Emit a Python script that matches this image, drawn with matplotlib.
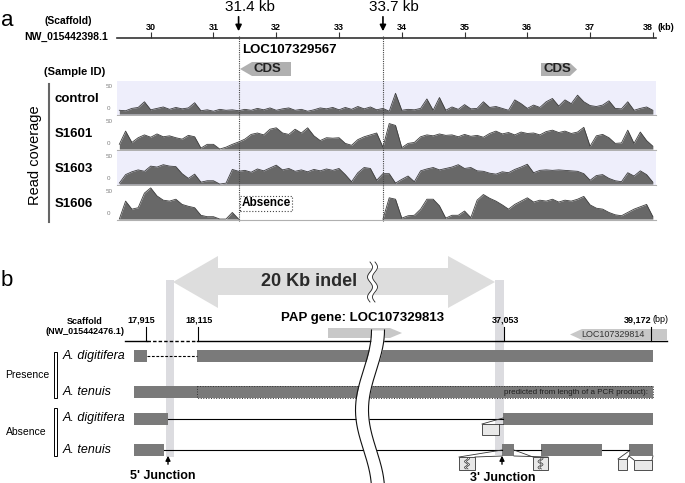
import numpy as np
import matplotlib.pyplot as plt
from matplotlib.patches import Polygon, Rectangle
from matplotlib.transforms import blended_transform_factory

plt.rcParams['font.family'] = ['Liberation Sans', 'DejaVu Sans']

# ---------------- panel a data ----------------
kb_ticks = [30, 31, 32, 33, 34, 35, 36, 37, 38]
breakpoints = [31.4, 33.7]
breakpoint_labels = ['31.4 kb', '33.7 kb']
samples = ['control', 'S1601', 'S1603', 'S1606']
bin_start = 29.5  # kb, read coverage every 0.1 kb
bin_step = 0.1

cov_control = [8, 7, 12, 14, 26, 9, 12, 15, 10, 14,
               11, 13, 24, 7, 9, 6, 10, 8, 9, 7,
               10, 8, 12, 9, 13, 8, 11, 13, 8, 10,
               6, 9, 13, 11, 14, 9, 14, 10, 16, 11,
               15, 9, 12, 6, 44, 8, 10, 9, 12, 32,
               8, 35, 8, 15, 10, 20, 11, 12, 26, 14,
               16, 12, 8, 30, 22, 12, 19, 14, 26, 33,
               17, 30, 22, 40, 26, 18, 16, 19, 28, 12,
               11, 26, 8, 12, 15, 8]
cov_s1601 = [10, 38, 14, 24, 30, 25, 32, 26, 28, 24,
             21, 29, 26, 2, 10, 10, 0, 4, 10, 15,
             21, 31, 34, 30, 42, 45, 34, 31, 42, 34,
             45, 28, 18, 24, 23, 24, 12, 8, 20, 26,
             30, 34, 4, 54, 50, 3, 12, 14, 26, 30,
             28, 32, 29, 30, 26, 31, 27, 29, 25, 33,
             38, 32, 35, 30, 36, 33, 34, 30, 37, 40,
             35, 38, 33, 36, 46, 6, 28, 31, 24, 12,
             13, 40, 12, 36, 18, 6]
cov_s1603 = [2, 20, 26, 30, 27, 38, 36, 41, 38, 37,
             22, 12, 21, 4, 7, 7, 0, 2, 31, 27,
             29, 25, 32, 28, 34, 40, 30, 33, 27, 30,
             26, 31, 28, 32, 29, 33, 20, 5, 24, 35,
             33, 8, 22, 22, 2, 10, 17, 5, 28, 32,
             35, 30, 33, 36, 41, 33, 35, 28, 27, 23,
             21, 26, 24, 31, 36, 42, 24, 29, 30, 29,
             30, 29, 28, 27, 22, 8, 18, 20, 12, 7,
             5, 24, 17, 28, 20, 4]
cov_s1606 = [0, 38, 21, 24, 55, 66, 49, 40, 38, 42,
             31, 27, 24, 8, 5, 5, 0, 0, 14, 0,
             0, 0, 0, 0, 0, 0, 0, 0, 0, 0,
             0, 0, 0, 0, 0, 0, 0, 0, 0, 0,
             0, 0, 0, 45, 42, 2, 7, 8, 21, 42,
             42, 28, 2, 8, 8, 17, 3, 40, 52, 44,
             38, 30, 21, 31, 38, 45, 36, 40, 38, 42,
             36, 40, 38, 42, 48, 30, 23, 21, 14, 9,
             7, 14, 21, 26, 31, 5]
coverage = [cov_control, cov_s1601, cov_s1603, cov_s1606]

# ---------------- panel b data ----------------
scaffold_ticks = ['17,915', '18,115', '37,053', '39,172']
group_names = ['Presence', 'Absence']
row_species = ['A. digitifera', 'A. tenuis', 'A. digitifera', 'A. tenuis']
# blocks along the schematic scaffold (drawing units)
row_blocks = [[(134, 147), (197, 653)],
              [(134, 653)],
              [(134, 168), (503, 653)],
              [(134, 164), (502, 514), (541, 602), (629, 653)]]
row_links = ['dashed', None, 'solid', 'solid']
junction_labels = ["5' Junction", "3' Junction"]

W, H = 685, 483


def px_rect(x0, y0, x1, y1):
    return [x0 / W, 1 - y1 / H, (x1 - x0) / W, (y1 - y0) / H]


fig = plt.figure(figsize=(W / 100, H / 100), dpi=100)
kb_lim = (29.463, 38.05)

# coverage tracks
track_px = [(81, 115), (116, 150), (151, 185), (186, 220)]
track_bg = ['#eeeefb', 'white', '#eeeefb', 'white']
x_bins = bin_start + bin_step * np.arange(len(cov_control))
for vals, (y0, y1), bg in zip(coverage, track_px, track_bg):
    t = fig.add_axes(px_rect(117, y0, 656, y1))
    t.set_xlim(*kb_lim)
    t.set_ylim(-2, 70)
    t.set_facecolor(bg)
    t.fill_between(x_bins, 0, vals, color='#686868', lw=0)
    v = np.array(vals, dtype=float)
    flat = (v == 0) & (np.r_[0, v[:-1]] == 0) & (np.r_[v[1:], 0] == 0)
    v[flat] = np.nan
    t.plot(x_bins, v, color='#3c3c3c', lw=0.6)
    for s in ['top', 'left', 'right']:
        t.spines[s].set_visible(False)
    t.spines['bottom'].set_color('#b0b0b0')
    t.set_xticks([])
    t.set_yticks([])
    t.text(-0.008, 0.85, '50', transform=t.transAxes, ha='right', va='center',
           fontsize=4.5, color='#808080')
    t.text(-0.012, 0.18, '0', transform=t.transAxes, ha='right', va='center',
           fontsize=4.5, color='#808080')

# kb ruler
ax_r = fig.add_axes(px_rect(117, 18, 656, 38))
ax_r.set_xlim(*kb_lim)
ax_r.set_ylim(0, 1)
ax_r.patch.set_alpha(0)
for s in ['top', 'left', 'right']:
    ax_r.spines[s].set_visible(False)
ax_r.spines['bottom'].set_color('#333333')
ax_r.spines['bottom'].set_linewidth(1.2)
ax_r.set_yticks([])
ax_r.set_xticks(kb_ticks)
ax_r.tick_params(axis='x', direction='in', length=4, width=0.8, colors='#333333',
                 labelbottom=False)
for k in kb_ticks:
    ax_r.text(k - (0.08 if k == kb_ticks[-1] else 0), 0.5, str(k), ha='center',
              va='center', fontsize=6.5, weight='bold')
ax_r.text(38.07, 0.5, '(kb)', ha='left', va='center', fontsize=6.5, weight='bold')

# overlay in pixel units
ax = fig.add_axes([0, 0, 1, 1], zorder=10)
ax.set_xlim(0, W)
ax.set_ylim(H, 0)
ax.axis('off')
kb_px = blended_transform_factory(ax_r.transData, ax.transData)

ax.text(1, 21, 'a', fontsize=16, va='center', ha='left')
ax.text(68, 21, '(Scaffold)', fontsize=7.5, weight='bold', ha='center', va='center')
ax.text(108, 37, 'NW_015442398.1', fontsize=7.5, weight='bold', ha='right', va='center')
ax.text(75, 72, '(Sample ID)', fontsize=8, weight='bold', ha='center', va='center')

for bp, lab in zip(breakpoints, breakpoint_labels):
    ax.annotate('', xy=(bp, 34), xytext=(bp, 14), xycoords=kb_px, textcoords=kb_px,
                arrowprops=dict(arrowstyle='-|>', color='k', lw=1.2, mutation_scale=9))
    ax.text(bp + 0.18, 7, lab, transform=kb_px, ha='center', va='center', fontsize=11)
    ax.plot([bp, bp], [36, 221], transform=kb_px, color='#444444', lw=0.8,
            ls=(0, (1, 1)))

ax.text(31.46, 50, 'LOC107329567', transform=kb_px, fontsize=9.5, weight='bold',
        ha='left', va='center')
ax.add_patch(Polygon([(240, 69), (252, 62), (291, 62), (291, 76), (252, 76)],
                     fc='#b0b0b0', ec='none'))
ax.text(267, 69, 'CDS', fontsize=9.5, weight='bold', ha='center', va='center', color='#222222')
ax.add_patch(Polygon([(541, 63), (570, 63), (577, 69.5), (570, 76), (541, 76)],
                     fc='#b0b0b0', ec='none'))
ax.text(557, 69.5, 'CDS', fontsize=9.5, weight='bold', ha='center', va='center', color='#222222')

for name, (y0, y1) in zip(samples, track_px):
    ax.text(55, (y0 + y1) / 2 + 1, name, fontsize=9.5, weight='bold', ha='left', va='center')
ax.text(35, 155, 'Read coverage', rotation=90, fontsize=10.5, ha='center', va='center')
ax.plot([49, 49], [84, 222], color='#666666', lw=1.5)
ax.text(266, 203.5, 'Absence', fontsize=8.5, weight='bold', ha='center', va='center',
        bbox=dict(boxstyle='square,pad=0.15', fc='white', ec='#444444', ls=':', lw=0.8))

# ---------------- panel b ----------------
ax.text(1, 281, 'b', fontsize=16, va='center', ha='left')
ax.add_patch(Polygon([(173, 282), (218, 256), (218, 268), (448, 268), (448, 256),
                      (495, 282), (448, 308), (448, 295), (218, 295), (218, 308)],
                     fc='#dddddd', ec='none', zorder=1))
ax.add_patch(Rectangle((166, 280), 8, 177, fc='#dcdce0', ec='none', zorder=1))
ax.add_patch(Rectangle((495, 280), 9, 175, fc='#dcdce0', ec='none', zorder=1))
ax.text(309, 282, '20 Kb indel', fontsize=13, weight='bold', ha='center', va='center',
        color='#2a2a2a', zorder=2)

# small break mark inside the arrow
ys = np.linspace(262, 302, 60)
cs = 372.5 + 2.5 * np.sin(2 * np.pi * (ys - 262) / 20)
ax.fill_betweenx(ys, cs - 2.5, cs + 2.5, color='white', zorder=3, lw=0)
ax.plot(cs - 2.5, ys, color='#222222', lw=0.6, zorder=3)
ax.plot(cs + 2.5, ys, color='#222222', lw=0.6, zorder=3)

# scaffold line
ax.text(85, 322, 'Scaffold', fontsize=6.5, weight='bold', ha='center', va='center')
ax.text(125, 332, '(NW_015442476.1)', fontsize=6.5, weight='bold', ha='right', va='center')
ax.plot([125, 147], [341, 341], color='k', lw=1, zorder=4)
ax.plot([147, 197], [341, 341], color='k', lw=1, ls=(0, (2.5, 1.5)), zorder=4)
ax.plot([197, 667], [341, 341], color='k', lw=1, zorder=4)
tick_x = [146, 198, 504, 651]
label_x = [141, 199, 506, 651]
for tx, lx, lab in zip(tick_x, label_x, scaffold_ticks):
    ax.plot([tx, tx], [327, 341], color='k', lw=0.8, zorder=4)
    ha = 'right' if lab == scaffold_ticks[-1] else 'center'
    ax.text(lx, 320, lab, fontsize=6.5, weight='bold', ha=ha, va='center')
ax.text(653, 320, '(bp)', fontsize=6.5, ha='left', va='center')

ax.add_patch(Polygon([(570, 334.5), (582, 329), (667, 329), (667, 340), (582, 340)],
                     fc='#c8c8c8', ec='none', zorder=2))
ax.text(613, 334.5, 'LOC107329814', fontsize=6.5, ha='center', va='center', color='#333333', zorder=3)
ax.add_patch(Polygon([(328, 328), (390, 328), (402, 333), (390, 338), (328, 338)],
                     fc='#c8c8c8', ec='none', zorder=2))
ax.text(363, 318, 'PAP gene: LOC107329813', fontsize=9.5, weight='bold', ha='center', va='center')

# rows
row_y = [356, 392, 418.5, 450]
bar_h = 12
for yc, blocks, link, sp in zip(row_y, row_blocks, row_links, row_species):
    for x0, x1 in blocks:
        ax.add_patch(Rectangle((x0, yc - bar_h / 2), x1 - x0, bar_h, fc='#7a7a7a',
                               ec='none', zorder=3))
    if link:
        for (a0, a1), (b0, b1) in zip(blocks[:-1], blocks[1:]):
            ls = (0, (2.5, 1.5)) if link == 'dashed' else '-'
            ax.plot([a1, b0], [yc, yc], color='k', lw=0.8, ls=ls, zorder=3)
    ax.text(63, yc, sp, fontsize=9, style='italic', ha='left', va='center')

ax.add_patch(Rectangle((197, 386), 456, 12, fill=False, ec='#333333', ls=':', lw=0.7, zorder=4))
ax.text(648, 392, 'predicted from length of a PCR product):', fontsize=5.8, ha='right',
        va='center', color='#1e1e1e', zorder=5)

ax.add_patch(Rectangle((54, 352), 3, 46, fill=False, ec='k', lw=0.7))
ax.add_patch(Rectangle((54, 408), 3, 48, fill=False, ec='k', lw=0.7))
ax.text(27, 375, group_names[0], fontsize=7.5, ha='center', va='center')
ax.text(26, 432, group_names[1], fontsize=7.5, ha='center', va='center')


# callout boxes
def callout(box, p_top, p_bot, wavy=False):
    bx0, by0, bx1, by1 = box
    ax.add_patch(Rectangle((bx0, by0), bx1 - bx0, by1 - by0, fc='#e8e8e8', ec='#333333',
                           lw=0.6, zorder=4))
    ax.plot([bx0, p_top[0]], [by0, p_top[1]], color='#333333', lw=0.6, zorder=4)
    ax.plot([bx1, p_bot[0]], [by0, p_bot[1]], color='#333333', lw=0.6, zorder=4)
    if wavy:
        yy = np.linspace(by0 + 1, by1 - 1, 30)
        cx = (bx0 + bx1) / 2 + 1.5 * np.sin(2 * np.pi * (yy - by0) / 6)
        ax.plot(cx - 1, yy, color='#333333', lw=0.5, zorder=5)
        ax.plot(cx + 1, yy, color='#333333', lw=0.5, zorder=5)


callout((482, 424, 499, 435), (503, 418), (503, 424))
callout((459, 457, 475, 470), (502, 450), (502, 456), wavy=True)
callout((533, 457, 548, 470), (514, 450), (514, 456), wavy=True)
callout((618, 459, 627, 470), (629, 451), (629, 456))
callout((634, 460, 652, 470), (629, 456), (653, 456))

# big break mark through the scaffold rows
yb = np.linspace(330, 483, 200)
cb = 370 - 8 * np.cos(2 * np.pi * (yb - 410) / 160)
ax.fill_betweenx(yb, cb - 6.5, cb + 6.5, color='white', lw=0, zorder=6)
ax.plot(cb - 6.5, yb, color='#111111', lw=0.8, zorder=7)
ax.plot(cb + 6.5, yb, color='#111111', lw=0.8, zorder=7)

# junction arrows
for jx, tx, ty, lab in zip([168, 502], [163, 503], [476, 478], junction_labels):
    ax.annotate('', xy=(jx, 453), xytext=(jx, 467),
                arrowprops=dict(arrowstyle='-|>', color='k', lw=1, mutation_scale=7), zorder=8)
    ax.text(tx, ty, lab, fontsize=9, weight='bold', ha='center', va='center', zorder=8)

fig.savefig('out.png', dpi=100)
